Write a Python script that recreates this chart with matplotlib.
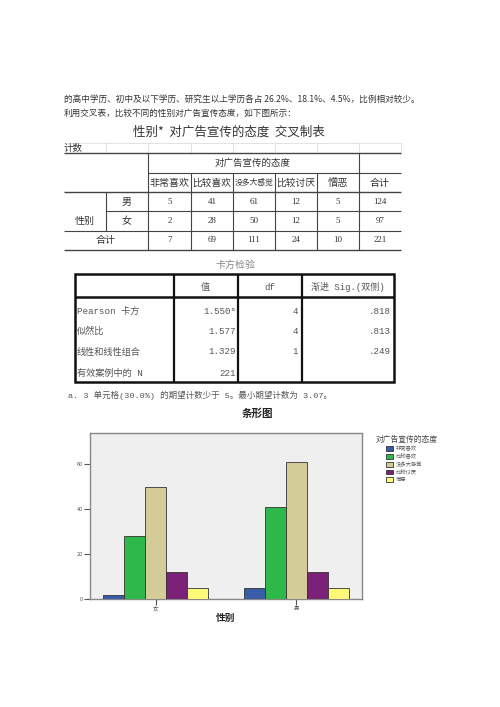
import matplotlib
matplotlib.use("agg")
import matplotlib.pyplot as plt
from matplotlib.patches import Rectangle
import numpy as np

plt.rcParams['font.family'] = ['Noto Sans CJK SC', 'DejaVu Sans']

# data
attitudes = ['非常喜欢', '比较喜欢', '没多大感觉', '比较讨厌', '憎恶']
genders = ['女', '男']                 # order used in the bar chart
female = [2, 28, 50, 12, 5]
male = [5, 41, 61, 12, 5]
colors = ['#3a5ba8', '#2eb84a', '#d3cc99', '#7b2278', '#fff97a']

chi_rows = ['Pearson 卡方', '似然比', '线性和线性组合', '有效案例中的 N']
chi_value = ['1.550ᵃ', '1.577', '1.329', '221']
chi_df = ['4', '4', '1', '']
chi_sig = ['.818', '.813', '.249', '']

line1 = '的高中学历、初中及以下学历、研究生以上学历各占 26.2%、18.1%、4.5%，比例相对较少。'
line2 = '利用交叉表，比较不同的性别对广告宣传态度，如下图所示：'
note = 'a. 3 单元格(30.0%) 的期望计数少于 5。最小期望计数为 3.07。'

fig = plt.figure(figsize=(5, 7.07), dpi=100)
bg = fig.add_axes([0, 0, 1, 1])
bg.set_xlim(0, 500)
bg.set_ylim(707, 0)
bg.axis('off')

txt = '#333333'
bg.text(64, 99, line1, fontsize=6.2, color=txt, va='center')
bg.text(64, 113, line2, fontsize=6.2, color=txt, va='center')

# cross table
bg.text(229, 132, '性别*  对广告宣传的态度  交叉制表', fontsize=9, color=txt,
        ha='center', va='center')
bg.text(64, 148, '计数', fontsize=6.8, color=txt, va='center')
cols = [64, 106, 148, 191, 233, 275, 317, 359, 401]
lc = '#444444'
bg.hlines(143, 64, 401, color='#dddddd', lw=0.6)
bg.vlines(cols[1:], 143, 153, color='#dddddd', lw=0.6)
bg.hlines(153, 64, 401, color=lc, lw=1.0)
bg.hlines(173, 148, 401, color=lc, lw=0.8)
bg.hlines(192, 64, 401, color=lc, lw=1.0)
bg.hlines(211, 106, 401, color=lc, lw=0.8)
bg.hlines(231, 64, 401, color=lc, lw=0.8)
bg.hlines(250, 64, 401, color=lc, lw=1.0)
bg.vlines([148, 359], 153, 250, color=lc, lw=0.8)
bg.vlines([191, 233, 275, 317], 173, 250, color=lc, lw=0.8)
bg.vlines(106, 192, 231, color=lc, lw=0.8)

bg.text(253, 163, '对广告宣传的态度', fontsize=6.8, color=txt, ha='center', va='center')
for i, name in enumerate(attitudes):
    x0, x1 = cols[2 + i], cols[3 + i]
    # shrink long headers so they stay inside their cell
    fs = min(7.4, (x1 - x0 - 3) / len(name) * 0.72)
    t = bg.text((x0 + x1) / 2, 183, name, fontsize=fs, color=txt,
                ha='center', va='center', clip_on=True)
    clip = Rectangle((x0 + 1, 173), x1 - x0 - 2, 19, transform=bg.transData)
    t.set_clip_path(clip)
bg.text(380, 183, '合计', fontsize=7.2, color=txt, ha='center', va='center')

bg.text(85, 221, '性别', fontsize=7.2, color=txt, ha='center', va='center')
bg.text(127, 201.5, '男', fontsize=7.2, color=txt, ha='center', va='center')
bg.text(127, 221, '女', fontsize=7.2, color=txt, ha='center', va='center')
bg.text(106, 240.5, '合计', fontsize=7.2, color=txt, ha='center', va='center')
totals = [m + f for m, f in zip(male, female)]
rows = [male + [sum(male)], female + [sum(female)], totals + [sum(totals)]]
for r, vals in enumerate(rows):
    y = [201.5, 221, 240.5][r]
    for c, v in enumerate(vals):
        bg.text((cols[2 + c] + cols[3 + c]) / 2, y, str(v), fontsize=6.5,
                color=txt, ha='center', va='center', family=['Liberation Serif', 'DejaVu Sans'])

# chi-square table
gc = '#555555'
mono = ['Liberation Mono', 'Noto Sans CJK SC', 'DejaVu Sans']
bg.text(235, 265, '卡方检验', fontsize=7.2, color='#888888', ha='center', va='center')
bg.add_patch(Rectangle((75, 274), 319, 108, fill=False, ec='#111111', lw=1.8))
bg.hlines(297, 75, 394, color='#111111', lw=1.8)
bg.vlines([174, 238, 302], 274, 382, color='#111111', lw=1.6)
bg.text(205, 287, '值', fontsize=6.5, color=gc, ha='center', va='center')
bg.text(270, 287, 'df', fontsize=6.5, color=gc, ha='center', va='center', family=mono)
bg.text(348, 287, '渐进 Sig.(双侧)', fontsize=6.5, color=gc, ha='center', va='center', family=mono)
for i in range(len(chi_rows)):
    y = [311, 331, 352, 373][i]
    bg.text(77, y, chi_rows[i], fontsize=6.6, color=gc, va='center', family=mono)
    bg.text(236, y, chi_value[i], fontsize=6.6, color=gc, ha='right', va='center', family=mono)
    bg.text(298, y, chi_df[i], fontsize=6.6, color=gc, ha='right', va='center', family=mono)
    bg.text(391, y, chi_sig[i], fontsize=6.6, color=gc, ha='right', va='center', family=mono)
bg.text(68, 395, note, fontsize=6.1, color=gc, va='center', family=mono)

# bar chart
ax = fig.add_axes([90 / 500, 1 - 599 / 707, 272 / 500, 166 / 707])
ax.set_facecolor('#efefef')
x = np.arange(len(genders))
w = 0.149
for i, name in enumerate(attitudes):
    vals = [female[i], male[i]]
    ax.bar(x + (i - 2) * w, vals, w, color=colors[i], edgecolor='#333333',
           lw=0.6, label=name, zorder=3)
ax.set_xlim(-0.465, 1.465)
ax.set_ylim(0, 73.8)
ax.set_yticks([0, 20, 40, 60])
ax.set_xticks(x)
ax.set_xticklabels(genders)
ax.tick_params(labelsize=4, colors='#555555', length=4, width=0.8, pad=1)
for s in ax.spines.values():
    s.set_color('#888888')
    s.set_linewidth(1.0)

fig.text(257 / 500, 1 - 414 / 707, '条形图', fontsize=7.6, fontweight='bold',
         color='#222222', ha='center', va='center')
fig.text(226 / 500, 1 - 618 / 707, '性别', fontsize=7, fontweight='bold',
         color='#222222', ha='center', va='center')
fig.text(376 / 500, 1 - 440 / 707, '对广告宣传的态度', fontsize=5.6,
         color='#444444', va='center')
ax.legend(loc='upper left', bbox_to_anchor=(386 / 500, 1 - 446 / 707),
          bbox_transform=fig.transFigure, frameon=False, fontsize=3.8,
          handlelength=1.3, handleheight=0.9, handletextpad=0.5,
          labelspacing=0.45, borderpad=0, borderaxespad=0, labelcolor='#555555')

plt.savefig('out.png', dpi=100)
plt.close()
